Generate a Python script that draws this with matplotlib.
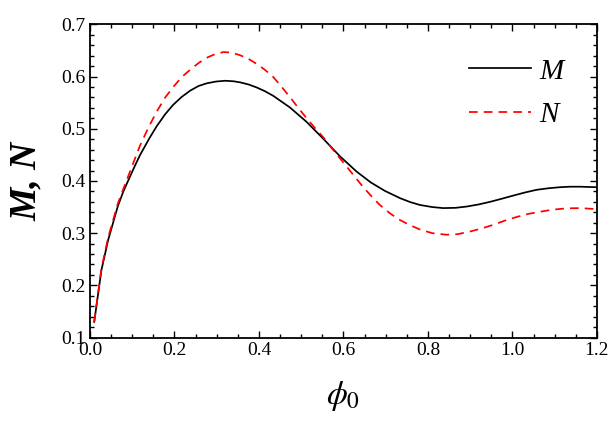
import matplotlib
matplotlib.use('Agg')
import matplotlib.pyplot as plt
from matplotlib.ticker import MultipleLocator

plt.rcParams['mathtext.fontset'] = 'stix'
plt.rcParams['font.family'] = ['Liberation Serif', 'DejaVu Serif']

# values
m_x = [0.01, 0.027, 0.043, 0.066, 0.079, 0.09, 0.104, 0.118, 0.14, 0.158,
       0.178, 0.197, 0.217, 0.237, 0.257, 0.276, 0.298, 0.32, 0.34, 0.355,
       0.375, 0.395, 0.414, 0.434, 0.473, 0.513, 0.552, 0.592, 0.631, 0.665,
       0.698, 0.734, 0.758, 0.781, 0.81, 0.836, 0.865, 0.892, 0.92, 0.947,
       0.975, 1.002, 1.03, 1.057, 1.085, 1.112, 1.136, 1.16, 1.18, 1.2]
m_y = [0.130, 0.229, 0.287, 0.352, 0.380, 0.400, 0.425, 0.449, 0.481, 0.505,
       0.528, 0.546, 0.561, 0.573, 0.582, 0.587, 0.5905, 0.592, 0.591, 0.589,
       0.585, 0.579, 0.572, 0.563, 0.541, 0.513, 0.481, 0.447, 0.418, 0.397,
       0.381, 0.367, 0.3595, 0.354, 0.350, 0.348, 0.3485, 0.351, 0.355, 0.360,
       0.366, 0.372, 0.378, 0.383, 0.386, 0.388, 0.389, 0.389, 0.3885, 0.388]

n_x = [0.01, 0.027, 0.043, 0.066, 0.079, 0.098, 0.118, 0.138, 0.158, 0.178,
       0.197, 0.217, 0.237, 0.257, 0.276, 0.296, 0.316, 0.335, 0.355, 0.375,
       0.395, 0.414, 0.434, 0.453, 0.473, 0.493, 0.513, 0.532, 0.552, 0.572,
       0.592, 0.62, 0.647, 0.667, 0.686, 0.71, 0.734, 0.758, 0.781, 0.81,
       0.844, 0.87, 0.899, 0.927, 0.955, 0.982, 1.01, 1.038, 1.065, 1.095,
       1.128, 1.16, 1.2]
n_y = [0.130, 0.232, 0.292, 0.357, 0.385, 0.425, 0.467, 0.502, 0.533, 0.560,
       0.580, 0.599, 0.613, 0.626, 0.636, 0.643, 0.647, 0.646, 0.641, 0.634,
       0.624, 0.613, 0.599, 0.581, 0.561, 0.540, 0.520, 0.502, 0.484, 0.463,
       0.443, 0.415, 0.388, 0.370, 0.354, 0.338, 0.325, 0.315, 0.307, 0.300,
       0.297, 0.298, 0.303, 0.309, 0.316, 0.324, 0.331, 0.337, 0.341, 0.345,
       0.3475, 0.348, 0.346]

fig = plt.figure(figsize=(6.11, 4.28), dpi=100)
ax = fig.add_axes([0.1473, 0.2114, 0.8297, 0.7316])

ax.plot(m_x, m_y, color='black', lw=1.25, label='M')
ax.plot(n_x, n_y, color='red', lw=1.25, ls=(0, (5, 3.5)), label='N')

ax.set_xlim(0, 1.2)
ax.set_ylim(0.1, 0.7)
ax.xaxis.set_major_locator(MultipleLocator(0.2))
ax.xaxis.set_minor_locator(MultipleLocator(0.05))
ax.yaxis.set_major_locator(MultipleLocator(0.1))
ax.yaxis.set_minor_locator(MultipleLocator(0.02))
ax.xaxis.set_major_formatter(plt.FuncFormatter(lambda v, p: f"{v:.1f}"))
ax.yaxis.set_major_formatter(plt.FuncFormatter(lambda v, p: f"{v:.1f}"))

ax.tick_params(which='both', direction='in', top=True, right=True,
               labelsize=14, width=1.0)
ax.tick_params(which='major', length=5)
ax.tick_params(which='minor', length=3)
for s in ax.spines.values():
    s.set_linewidth(1.3)

ax.set_xlabel(r'$\phi_0$', fontsize=24, labelpad=14)
ax.set_ylabel('M, N', fontsize=27, fontstyle='italic', fontweight='bold',
              labelpad=12)

ax.legend(frameon=False, loc='upper right', handlelength=2.1,
          handletextpad=0.3, labelspacing=0.6, bbox_to_anchor=(0.986, 0.976),
          prop={'family': 'Liberation Serif', 'style': 'italic', 'size': 21})

fig.savefig('out.png', dpi=100)
